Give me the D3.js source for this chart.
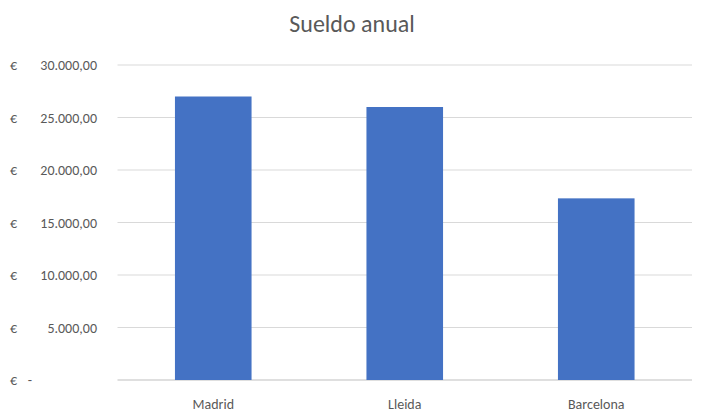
<!DOCTYPE html>
<html><head><meta charset="utf-8">
<script src="https://cdn.jsdelivr.net/npm/d3@7"></script>
<style>body{margin:0;background:#fff}</style></head>
<body><svg id="c" width="704" height="414"></svg>
<script>
const categories = ["Madrid", "Lleida", "Barcelona"];
const values = [27000, 26000, 17300];
const ticks = [0, 5000, 10000, 15000, 20000, 25000, 30000];
const title = "Sueldo anual";

const svg = d3.select("#c");
const font = "Calibri, Carlito, 'Liberation Sans', Arial, sans-serif";
const x = d3.scaleBand().domain(categories).range([117.5, 692]).paddingInner(0.6).paddingOuter(0.3);
const y = d3.scaleLinear().domain([0, 30000]).range([380, 65]);

svg.append("text").attr("x", 352).attr("y", 32).attr("text-anchor", "middle")
  .attr("font-family", font).attr("font-size", 24).attr("fill", "#595959").text(title);

const fmt = v => v === 0 ? "-" : d3.format(",.2f")(v).replace(/,/g, "#").replace(".", ",").replace(/#/g, ".");
const g = svg.append("g");
ticks.forEach(t => {
  g.append("line").attr("x1", 117.5).attr("x2", 692).attr("y1", y(t)).attr("y2", y(t))
    .attr("stroke", t === 0 ? "#bfbfbf" : "#d9d9d9").attr("stroke-width", 1);
  g.append("text").attr("x", 10).attr("y", y(t) + 5).attr("font-family", font)
    .attr("font-size", 14).attr("fill", "#595959").text("€");
  g.append("text").attr("x", t === 0 ? 32 : 97).attr("y", y(t) + 5).attr("text-anchor", "end")
    .attr("font-family", font).attr("font-size", 14).attr("fill", "#595959").text(fmt(t));
});

svg.selectAll("rect").data(values).join("rect")
  .attr("x", (d, i) => x(categories[i])).attr("width", x.bandwidth())
  .attr("y", d => y(d)).attr("height", d => y(0) - y(d)).attr("fill", "#4472c4");

categories.forEach(c => {
  svg.append("text").attr("x", x(c) + x.bandwidth() / 2).attr("y", 409).attr("text-anchor", "middle")
    .attr("font-family", font).attr("font-size", 14).attr("fill", "#595959").text(c);
});
</script></body></html>
